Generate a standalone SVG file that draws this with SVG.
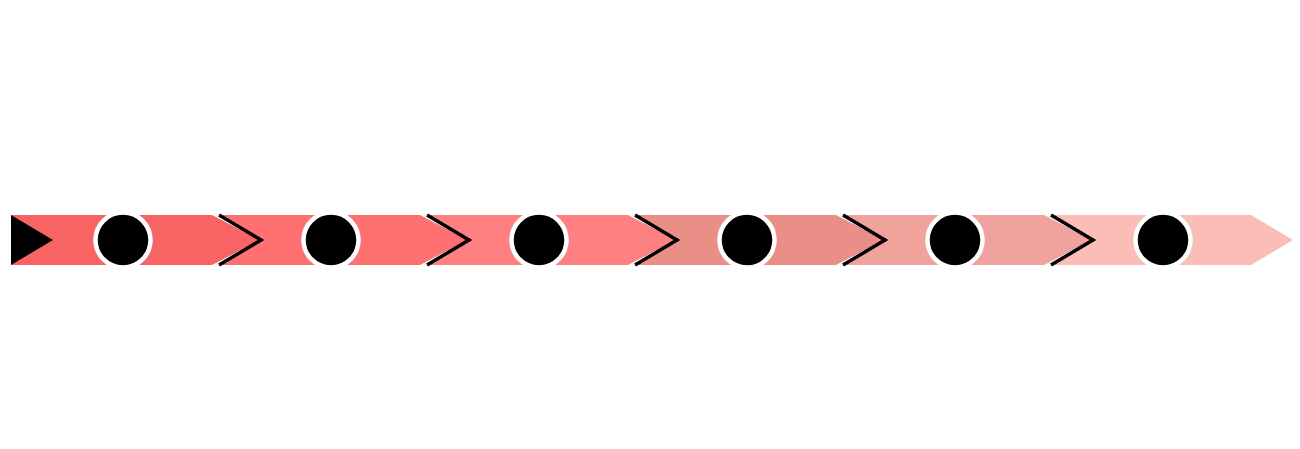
<svg xmlns="http://www.w3.org/2000/svg" width="1300" height="449" viewBox="0 0 1300 449">
<style>
.dot{fill:#000;stroke:#fff;stroke-width:4.5}
.chev{fill:none;stroke:#000;stroke-width:3.5;stroke-linejoin:miter}
</style>
<rect width="1300" height="449" fill="#fff"/>
<g id="step1">
<polygon points="11,215 212,215 260,240 212,265 11,265" fill="#F86464"/>
<polygon points="11,215 53,240 11,265" fill="#000"/>
<circle class="dot" cx="123" cy="240" r="27.5"/>
</g>
<g id="step2">
<polygon points="219,215 420,215 468,240 420,265 219,265 261,240" fill="#FF7070"/>
<circle class="dot" cx="331" cy="240" r="27.5"/>
</g>
<g id="step3">
<polygon points="427,215 628,215 676,240 628,265 427,265 469,240" fill="#FF8080"/>
<circle class="dot" cx="539" cy="240" r="27.5"/>
</g>
<g id="step4">
<polygon points="635,215 836,215 884,240 836,265 635,265 677,240" fill="#EA8F88"/>
<circle class="dot" cx="747" cy="240" r="27.5"/>
</g>
<g id="step5">
<polygon points="843,215 1044,215 1092,240 1044,265 843,265 885,240" fill="#F0A29C"/>
<circle class="dot" cx="955" cy="240" r="27.5"/>
</g>
<g id="step6">
<polygon points="1051,215 1251,215 1293,240 1251,265 1051,265 1093,240" fill="#FBBDB8"/>
<circle class="dot" cx="1163" cy="240" r="27.5"/>
</g>
<g id="connectors">
<polyline class="chev" points="219,215 261,240 219,265"/>
<polyline class="chev" points="427,215 469,240 427,265"/>
<polyline class="chev" points="635,215 677,240 635,265"/>
<polyline class="chev" points="843,215 885,240 843,265"/>
<polyline class="chev" points="1051,215 1093,240 1051,265"/>
</g>
</svg>
